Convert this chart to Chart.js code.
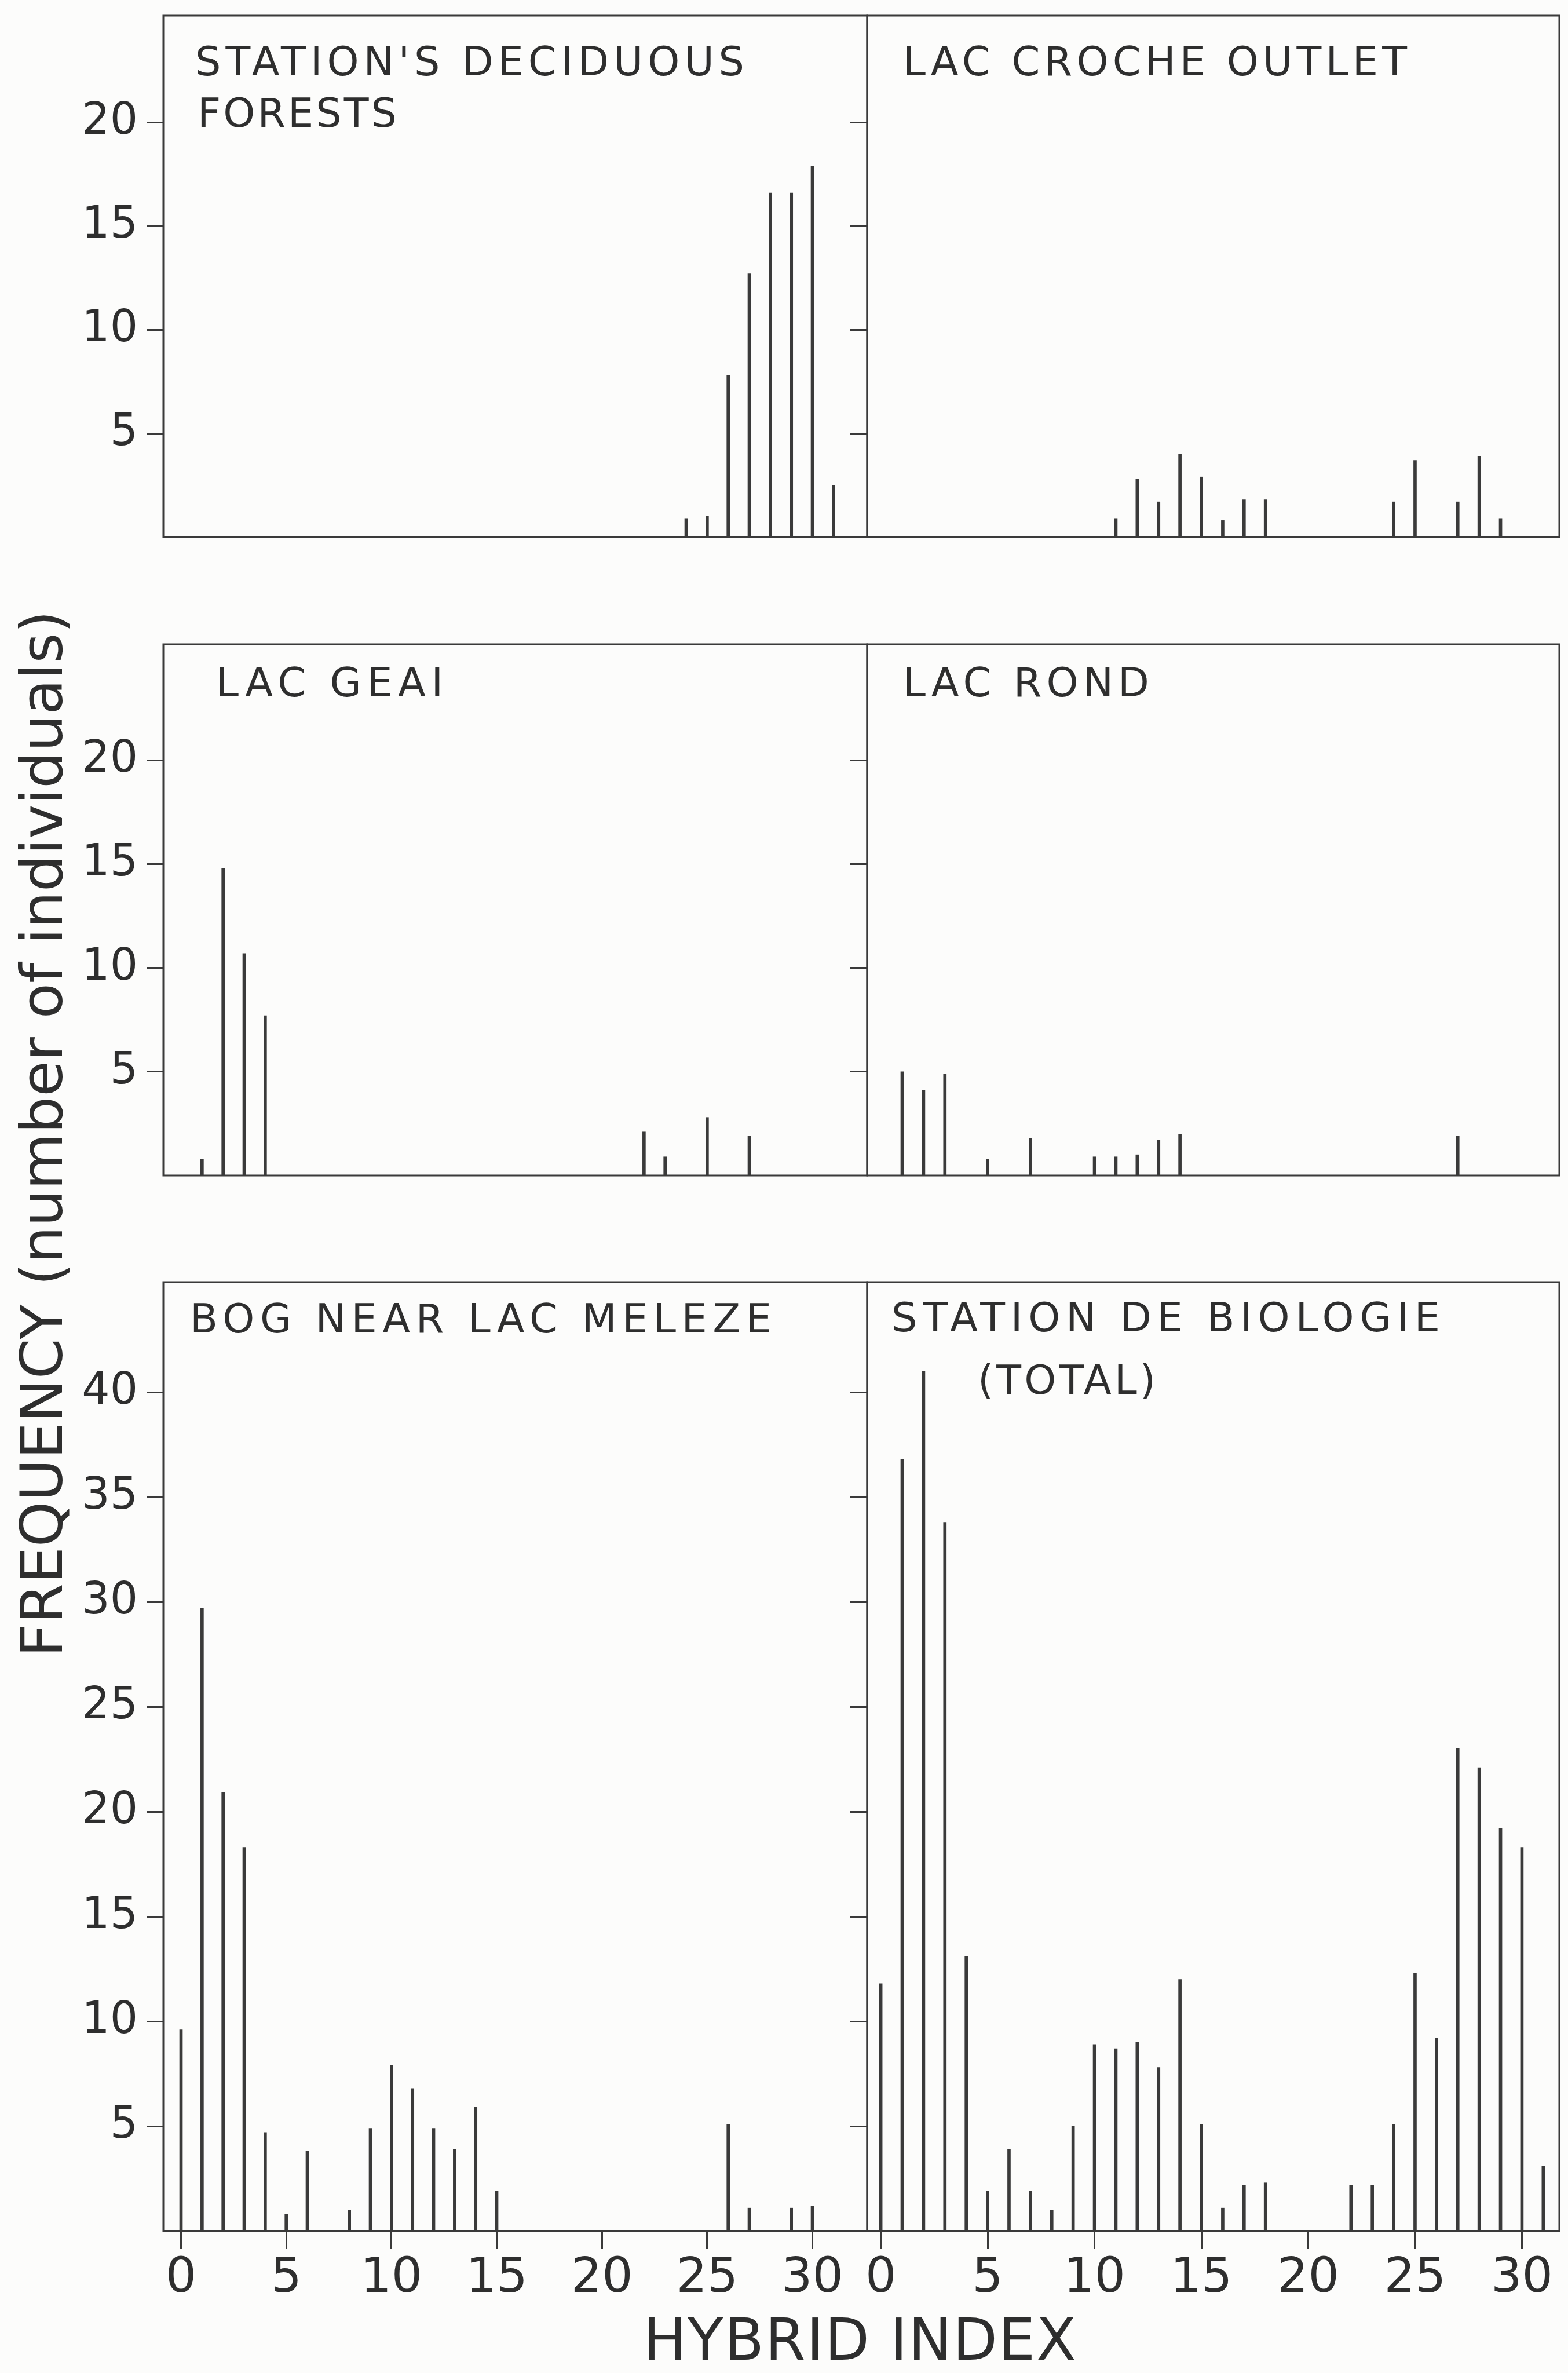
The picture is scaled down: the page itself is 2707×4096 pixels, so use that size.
<!DOCTYPE html>
<html>
<head>
<meta charset="utf-8">
<script src="https://cdn.jsdelivr.net/npm/chart.js@4.4.1/dist/chart.umd.min.js"></script>
<style>
  html, body { margin: 0; padding: 0; background: #fcfcfb; }
  body { width: 2707px; height: 4096px; position: relative; overflow: hidden;
         font-family: "DejaVu Sans", sans-serif; color: #2e2e2e; }
  canvas { position: absolute; }
  .axis-title { position: absolute; font-size: 100px; line-height: 100px;
                white-space: nowrap; text-align: center; }
</style>
</head>
<body>
<canvas id="p1"></canvas>
<canvas id="p2"></canvas>
<canvas id="p3"></canvas>
<canvas id="p4"></canvas>
<canvas id="p5"></canvas>
<canvas id="p6"></canvas>
<div id="xtitle" class="axis-title">HYBRID INDEX</div>
<div id="ytitle" class="axis-title">FREQUENCY (number of individuals)</div>
<script>
// counts per hybrid index class
var decidX = [24, 25, 26, 27, 28, 29, 30, 31];
var decidY = [0.9, 1.0, 7.8, 12.7, 16.6, 16.6, 17.9, 2.5];

var crocheX = [11, 12, 13, 14, 15, 16, 17, 18, 24, 25, 27, 28, 29];
var crocheY = [0.9, 2.8, 1.7, 4.0, 2.9, 0.8, 1.8, 1.8, 1.7, 3.7, 1.7, 3.9, 0.9];

var geaiX = [1, 2, 3, 4, 22, 23, 25, 27];
var geaiY = [0.8, 14.8, 10.7, 7.7, 2.1, 0.9, 2.8, 1.9];

var rondX = [1, 2, 3, 5, 7, 10, 11, 12, 13, 14, 27];
var rondY = [5.0, 4.1, 4.9, 0.8, 1.8, 0.9, 0.9, 1.0, 1.7, 2.0, 1.9];

var bogX = [0, 1, 2, 3, 4, 5, 6, 8, 9, 10, 11, 12, 13, 14, 15, 26, 27, 29, 30];
var bogY = [9.6, 29.7, 20.9, 18.3, 4.7, 0.8, 3.8, 1.0, 4.9, 7.9, 6.8, 4.9, 3.9, 5.9, 1.9, 5.1, 1.1, 1.1, 1.2];

var totalX = [0, 1, 2, 3, 4, 5, 6, 7, 8, 9, 10, 11, 12, 13, 14, 15, 16, 17, 18,
              22, 23, 24, 25, 26, 27, 28, 29, 30, 31];
var totalY = [11.8, 36.8, 41.0, 33.8, 13.1, 1.9, 3.9, 1.9, 1.0, 5.0, 8.9, 8.7, 9.0, 7.8, 12.0, 5.1, 1.1, 2.2, 2.3,
              2.2, 2.2, 5.1, 12.3, 9.2, 23.0, 22.1, 19.2, 18.3, 3.1];

var xTicks = [0, 5, 10, 15, 20, 25, 30];
var yTicksSmall = [5, 10, 15, 20];
var yTicksLarge = [5, 10, 15, 20, 25, 30, 35, 40];

var panelTitles = [
  ["STATION'S DECIDUOUS", "FORESTS"],
  ["LAC CROCHE OUTLET"],
  ["LAC GEAI"],
  ["LAC ROND"],
  ["BOG NEAR LAC MELEZE"],
  ["STATION DE BIOLOGIE", "(TOTAL)"]
];

var LINE = "#3a3a3a";
var TEXT = "#2e2e2e";

Chart.defaults.font.family = '"DejaVu Sans", sans-serif';
Chart.defaults.color = TEXT;

// box around the plot area plus the panel title, letter-spaced to its width
function boxPlugin(lines) {
  return {
    id: "panelBox",
    afterDraw: function (chart) {
      var a = chart.chartArea;
      var ctx = chart.ctx;
      ctx.save();
      ctx.strokeStyle = LINE;
      ctx.lineWidth = 3;
      ctx.strokeRect(a.left, a.top, a.right - a.left, a.bottom - a.top);
      ctx.fillStyle = TEXT;
      ctx.font = '70px "DejaVu Sans"';
      ctx.textBaseline = "alphabetic";
      ctx.textAlign = "left";
      lines.forEach(function (l) {
        ctx.letterSpacing = "0px";
        var w0 = ctx.measureText(l.text).width;
        var sp = (l.w - w0) / (l.text.length - 1);
        ctx.letterSpacing = sp.toFixed(2) + "px";
        ctx.fillText(l.text, a.left + l.dx, a.top + l.dy);
      });
      ctx.restore();
    }
  };
}

// keep the plot area where it is put, whatever the label sizes
function noPad(s) {
  s.paddingTop = 0;
  s.paddingBottom = 0;
  s.paddingLeft = 0;
  s.paddingRight = 0;
}

function makePanel(id, xs, ys, p) {
  var el = document.getElementById(id);
  el.width = p.cw;
  el.height = p.ch;
  el.style.left = p.cx + "px";
  el.style.top = p.cy + "px";

  var points = xs.map(function (x, i) { return { x: x, y: ys[i] }; });

  var xScale = {
    type: "linear",
    offset: false,
    min: p.xmin,
    max: p.xmax,
    afterBuildTicks: function (s) { s.ticks = xTicks.map(function (v) { return { value: v }; }); },
    afterFit: function (s) { s.height = p.xh; noPad(s); },
    border: { display: false },
    grid: { display: p.xLabels, offset: false, drawOnChartArea: false, drawTicks: true,
            tickLength: 31, lineWidth: 3, color: LINE },
    ticks: { display: p.xLabels, padding: 2, font: { size: 84 }, color: TEXT, maxRotation: 0, autoSkip: false }
  };

  var yScale = {
    min: 0,
    max: p.ymax,
    afterBuildTicks: function (s) { s.ticks = p.yTicks.map(function (v) { return { value: v }; }); },
    afterFit: function (s) { s.width = p.yw; noPad(s); },
    border: { display: false },
    grid: { drawOnChartArea: false, drawTicks: true, tickLength: 29, lineWidth: 3, color: LINE },
    ticks: { display: p.yLabels, padding: 15, font: { size: 76 }, color: TEXT }
  };

  return new Chart(el.getContext("2d"), {
    type: "bar",
    data: {
      datasets: [{
        data: points,
        backgroundColor: LINE,
        borderWidth: 0,
        barThickness: 5
      }]
    },
    options: {
      responsive: false,
      animation: false,
      devicePixelRatio: 1,
      layout: { autoPadding: false, padding: { top: p.pt, right: p.pr, bottom: 0, left: 0 } },
      plugins: { legend: { display: false }, tooltip: { enabled: false } },
      scales: { x: xScale, y: yScale }
    },
    plugins: [boxPlugin(p.lines)]
  });
}

var leftCol = { cx: 0, cw: 1501, yw: 282, pr: 4, xmin: -0.84, xmax: 32.6, yLabels: true };
var rightCol = { cx: 1457, cw: 1250, yw: 40, pr: 15, xmin: -0.64, xmax: 31.75, yLabels: false };
var topRow = { cy: 0, ch: 937, pt: 27, xh: 10, ymax: 25.15, yTicks: yTicksSmall, xLabels: false };
var midRow = { cy: 1100, ch: 939, pt: 12, xh: 10, ymax: 25.6, yTicks: yTicksSmall, xLabels: false };
var botRow = { cy: 2200, ch: 1791, pt: 13, xh: 140, ymax: 45.25, yTicks: yTicksLarge, xLabels: true };

function cfg(col, row, lines) {
  return Object.assign({}, col, row, { lines: lines });
}

makePanel("p1", decidX, decidY, cfg(leftCol, topRow, [
  { text: panelTitles[0][0], dx: 55, dy: 103, w: 948 },
  { text: panelTitles[0][1], dx: 59, dy: 192, w: 344 }
]));
makePanel("p2", crocheX, crocheY, cfg(rightCol, topRow, [
  { text: panelTitles[1][0], dx: 62, dy: 103, w: 870 }
]));
makePanel("p3", geaiX, geaiY, cfg(leftCol, midRow, [
  { text: panelTitles[2][0], dx: 91, dy: 90, w: 392 }
]));
makePanel("p4", rondX, rondY, cfg(rightCol, midRow, [
  { text: panelTitles[3][0], dx: 62, dy: 90, w: 425 }
]));
makePanel("p5", bogX, bogY, cfg(leftCol, botRow, [
  { text: panelTitles[4][0], dx: 46, dy: 87, w: 1004 }
]));
makePanel("p6", totalX, totalY, cfg(rightCol, botRow, [
  { text: panelTitles[5][0], dx: 42, dy: 85, w: 947 },
  { text: panelTitles[5][1], dx: 191, dy: 193, w: 307 }
]));

// shared axis titles
var xt = document.getElementById("xtitle");
xt.style.width = "1200px";
xt.style.left = (1485 - 600) + "px";
xt.style.top = "3989px";
xt.style.letterSpacing = "2px";

var yt = document.getElementById("ytitle");
yt.style.width = "1900px";
yt.style.left = (73 - 950) + "px";
yt.style.top = (1957 - 50) + "px";
yt.style.transform = "rotate(-90deg)";
</script>
</body>
</html>
